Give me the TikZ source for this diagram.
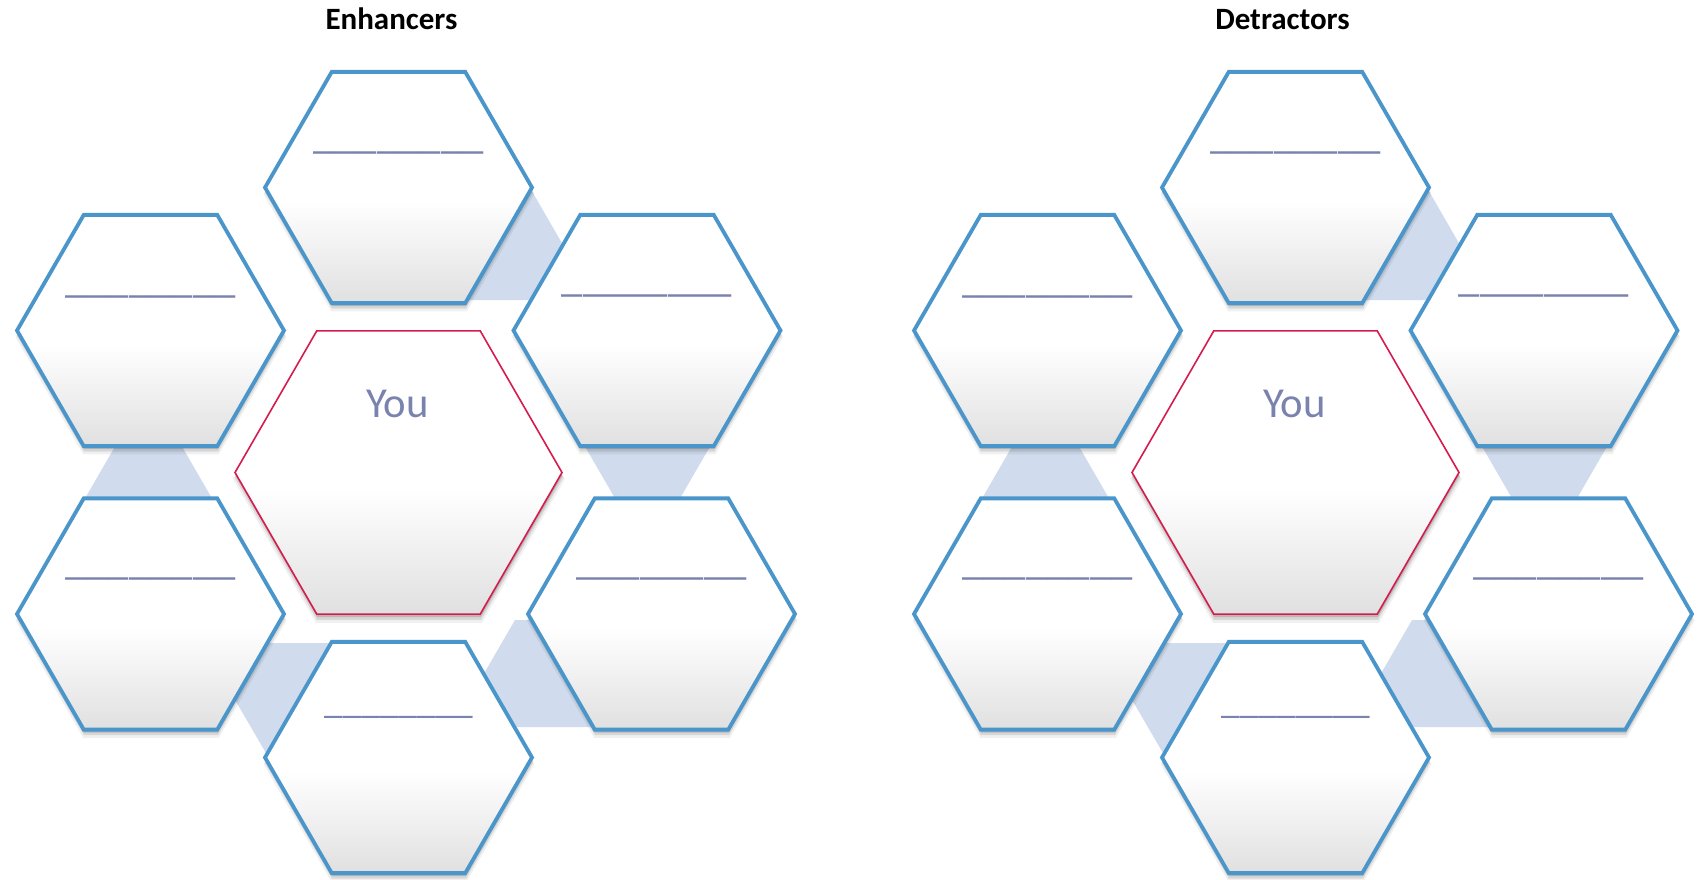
\documentclass[tikz,border=0pt]{standalone}
\usepackage{fontspec}
\setmainfont{Carlito}
\usetikzlibrary{shapes.geometric,shadows,calc}
\definecolor{hexblue}{RGB}{74,150,202}
\definecolor{youred}{RGB}{214,28,78}
\definecolor{bandblue}{RGB}{208,220,237}
\definecolor{hexgray}{RGB}{224,224,224}
\definecolor{lblue}{RGB}{122,130,174}
\pgfdeclareverticalshading{hexshade}{100bp}{color(0bp)=(hexgray); color(25bp)=(hexgray); color(47bp)=(white); color(75bp)=(white); color(100bp)=(white)}
\pgfdeclarelayer{paper}
\pgfdeclarelayer{background}
\pgfsetlayers{paper,background,main}
\tikzset{
 softshadow/.style={
   general shadow={fill=black, fill opacity=0.06, shadow xshift=0.5pt, shadow yshift=-6.5pt, shadow scale=1.015},
   general shadow={fill=black, fill opacity=0.10, shadow xshift=0.5pt, shadow yshift=-5pt, shadow scale=1.005},
   general shadow={fill=black, fill opacity=0.14, shadow xshift=0.5pt, shadow yshift=-3pt}},
 hexcell/.style={regular polygon, regular polygon sides=6, minimum size=267pt, inner sep=0pt, outer sep=0pt,
   softshadow, draw=hexblue, line width=3.8pt, shading=hexshade},
 youcell/.style={hexcell, minimum size=327pt, draw=youred, line width=1.6pt},
 band/.style={fill=bandblue, draw=none},
 blank/.style={font=\fontsize{42.7}{50}\selectfont, text=lblue, anchor=base, inner sep=0pt},
 blanksmall/.style={blank, font=\fontsize{37.3}{44}\selectfont},
 youtext/.style={font=\fontsize{42.7}{50}\selectfont, text=lblue, anchor=base, inner sep=0pt},
 title/.style={font=\bfseries\fontsize{31}{37}\selectfont, anchor=base, inner sep=0pt},
}
\begin{document}
\begin{tikzpicture}[x=1pt,y=-1pt]
\begin{pgfonlayer}{paper}
\fill[white] (0,0) rectangle (1699,880);
\end{pgfonlayer}
\useasboundingbox (0,0) rectangle (1699,880);
\foreach \p/\dx/\tx/\ttl in {e/0/391.5/Enhancers, d/897/1282.5/Detractors}{
  \node[title] (\p-title) at (\tx,30) {\ttl};
  \node[hexcell] (\p-top) at (\dx+398.5,187.5) {};
  \node[hexcell] (\p-ul)  at (\dx+150.5,330.5) {};
  \node[hexcell] (\p-ur)  at (\dx+647,330.5) {};
  \node[youcell] (\p-you) at (\dx+398.5,472.5) {};
  \node[hexcell] (\p-ll)  at (\dx+150.5,614) {};
  \node[hexcell] (\p-lr)  at (\dx+661.5,614) {};
  \node[hexcell] (\p-bot) at (\dx+398.5,757.5) {};
  \node[blank] (\p-topt) at ($(\p-top)+(0,-39.5)$) {\_\_\_\_\_\_\_\_};
  \node[blank] (\p-ult)  at ($(\p-ul)+(0,-38.5)$) {\_\_\_\_\_\_\_\_};
  \node[blank] (\p-urt)  at ($(\p-ur)+(0,-38.8)$) {\_\_\_\_\_\_\_\_};
  \node[blank] (\p-llt)  at ($(\p-ll)+(0,-40)$) {\_\_\_\_\_\_\_\_};
  \node[blank] (\p-lrt)  at ($(\p-lr)+(0,-40)$) {\_\_\_\_\_\_\_\_};
  \node[blanksmall] (\p-bott) at ($(\p-bot)+(0,-44)$) {\_\_\_\_\_\_\_\_};
  \node[youtext] (\p-yout) at ($(\p-you)+(-1,-55.5)$) {You};
  \begin{pgfonlayer}{background}
    \fill[band] ($(\p-top)+(127,-7.5)$) -- ($(\p-top)+(196.2,112.5)$) -- ($(\p-top)+(61.5,112.5)$) -- cycle;
    \fill[band] ($(\p-ul)+(-31.7,109.5)$) -- ($(\p-ul)+(27.7,109.5)$) -- ($(\p-ul)+(62.4,169.5)$) -- ($(\p-ul)+(-66.4,169.5)$) -- cycle;
    \fill[band] ($(\p-ur)+(-65.8,109.5)$) -- ($(\p-ur)+(66.8,109.5)$) -- ($(\p-ur)+(32,169.5)$) -- ($(\p-ur)+(-31,169.5)$) -- cycle;
    \fill[band] ($(\p-bot)+(-196.5,-114.5)$) -- ($(\p-bot)+(-63.5,-114.5)$) -- ($(\p-bot)+(-128.5,2.5)$) -- cycle;
    \fill[band] ($(\p-lr)+(-146.5,6)$) -- ($(\p-lr)+(-101.5,6)$) -- ($(\p-lr)+(-61.5,113)$) -- ($(\p-lr)+(-208.5,113)$) -- cycle;
  \end{pgfonlayer}
}
\end{tikzpicture}
\end{document}
